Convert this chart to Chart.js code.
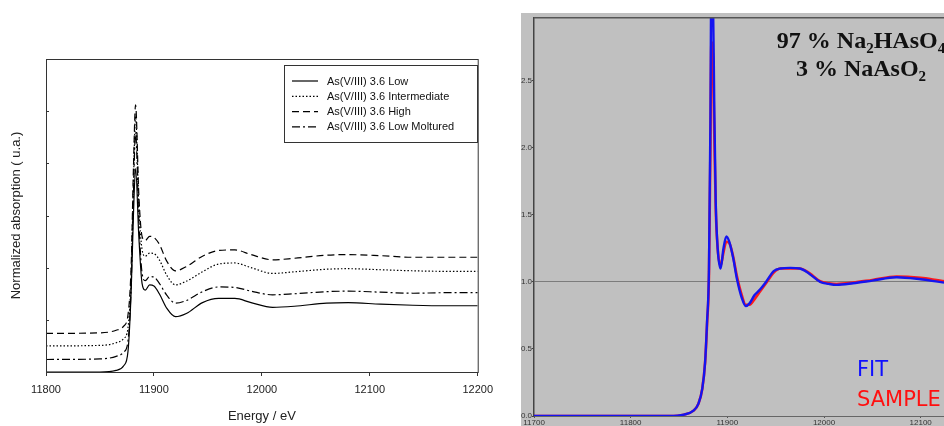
<!DOCTYPE html>
<html>
<head>
<meta charset="utf-8">
<script src="https://cdn.jsdelivr.net/npm/chart.js@4/dist/chart.umd.min.js"></script>
<style>
  html, body { margin: 0; padding: 0; background: #fff; overflow: hidden; width: 944px; height: 426px; }
  #left { position: absolute; left: 0; top: 0; width: 500px; height: 426px; }
  #right { position: absolute; left: 521px; top: 13px; width: 448px; height: 413px; background: #c0c0c0; }
</style>
</head>
<body>
<div id="left"><canvas id="xanes"></canvas></div>
<div id="right"><canvas id="fit"></canvas></div>
<script>
// left panel: stacked normalized spectra
const energy = [11800, 11850, 11865, 11872, 11876, 11879, 11881, 11883, 11886, 11889, 11892, 11896, 11900, 11905, 11912, 11920, 11930, 11945, 11960, 11975, 11990, 12010, 12030, 12060, 12080, 12110, 12140, 12170, 12200];
const lowVals      = [0, 0, 0.03, 0.12, 0.4, 1.6, 3.0, 3.9, 2.6, 1.7, 1.57, 1.67, 1.65, 1.5, 1.22, 1.06, 1.12, 1.33, 1.41, 1.41, 1.33, 1.24, 1.26, 1.32, 1.33, 1.30, 1.28, 1.27, 1.27];
const interVals    = [0.5, 0.51, 0.56, 0.64, 0.85, 1.9, 3.6, 4.9, 3.2, 2.35, 2.22, 2.28, 2.27, 2.15, 1.85, 1.67, 1.74, 1.92, 2.07, 2.09, 2.0, 1.89, 1.92, 1.97, 1.98, 1.96, 1.94, 1.93, 1.93];
const highVals     = [0.74, 0.75, 0.8, 0.88, 1.1, 2.1, 3.9, 5.12, 3.4, 2.6, 2.52, 2.6, 2.58, 2.45, 2.12, 1.94, 2.02, 2.22, 2.33, 2.34, 2.25, 2.15, 2.18, 2.24, 2.25, 2.23, 2.2, 2.2, 2.2];
const moltVals     = [0.24, 0.25, 0.3, 0.38, 0.6, 1.7, 3.4, 4.6, 2.9, 1.9, 1.75, 1.83, 1.82, 1.7, 1.47, 1.32, 1.37, 1.54, 1.63, 1.62, 1.55, 1.48, 1.5, 1.54, 1.55, 1.53, 1.51, 1.52, 1.52];
const seriesLabels = ['As(V/III) 3.6 Low', 'As(V/III) 3.6 Intermediate', 'As(V/III) 3.6 High', 'As(V/III) 3.6 Low Moltured'];
const energyTicks = [11800, 11900, 12000, 12100, 12200];

// right panel: linear combination fit
const fitEnergy = [11700, 11750, 11800, 11840, 11855, 11865, 11870, 11874, 11877, 11879, 11881, 11882.5, 11883.5, 11885, 11886.5, 11888, 11890, 11893, 11896, 11899, 11902, 11906, 11910, 11915, 11919, 11923, 11928, 11934, 11940, 11948, 11955, 11965, 11975, 11985, 11996, 12005, 12013, 12030, 12050, 12075, 12100, 12125, 12150];
const fitVals    = [0, 0, 0, 0, 0.01, 0.04, 0.09, 0.2, 0.4, 0.7, 1.1, 2.2, 3.3, 3.2, 2.3, 1.6, 1.25, 1.1, 1.25, 1.34, 1.3, 1.18, 1.02, 0.88, 0.82, 0.84, 0.9, 0.945, 1.0, 1.08, 1.1, 1.105, 1.1, 1.06, 1.0, 0.985, 0.978, 0.99, 1.01, 1.035, 1.02, 0.995, 0.985];
const sampleVals = [0, 0, 0, 0, 0.01, 0.04, 0.09, 0.2, 0.4, 0.68, 1.05, 2.0, 2.79, 2.7, 2.1, 1.55, 1.25, 1.12, 1.22, 1.3, 1.29, 1.19, 1.04, 0.9, 0.83, 0.83, 0.87, 0.93, 0.99, 1.07, 1.1, 1.1, 1.1, 1.065, 1.005, 0.99, 0.985, 0.995, 1.015, 1.04, 1.03, 1.005, 0.995];
const fitTicksY = [0, 0.5, 1.0, 1.5, 2.0, 2.5];

const toPts = (xs, ys) => xs.map((x, i) => ({x: x, y: ys[i]}));
const sans = '"Liberation Sans", Arial, sans-serif';

const dashes = [[], [1.5, 2], [7, 4], [8, 3, 2, 3]];
const leftSeries = [lowVals, interVals, highVals, moltVals];

const frame = {
    id: 'frame',
    afterDatasetsDraw(chart) {
        const a = chart.chartArea, c = chart.ctx;
        c.save();
        c.strokeStyle = '#333';
        c.lineWidth = 1;
        c.strokeRect(a.left + 0.5, a.top + 0.5, a.right - a.left, a.bottom - a.top);
        // small inward ticks on the left axis
        chart.scales.y.ticks.forEach(t => {
            const py = Math.round(chart.scales.y.getPixelForValue(t.value)) + 0.5;
            c.beginPath();
            c.moveTo(a.left, py);
            c.lineTo(a.left + 3, py);
            c.stroke();
        });
        c.restore();
    }
};

const boxLegend = {
    id: 'boxLegend',
    afterDraw(chart) {
        const c = chart.ctx;
        c.save();
        c.strokeStyle = '#333';
        c.lineWidth = 1;
        c.strokeRect(284.5, 65.5, 193, 77);
        c.font = '11px ' + sans;
        c.textBaseline = 'middle';
        c.fillStyle = '#111';
        chart.data.datasets.forEach((ds, i) => {
            const y = 81 + i * 15.3;
            c.beginPath();
            c.setLineDash(ds.borderDash);
            c.strokeStyle = '#000';
            c.lineWidth = 1.2;
            c.moveTo(292, y);
            c.lineTo(318, y);
            c.stroke();
            c.setLineDash([]);
            c.fillText(ds.label, 327, y + 0.5);
        });
        c.restore();
    }
};

new Chart(document.getElementById('xanes').getContext('2d'), {
    type: 'line',
    data: {
        datasets: leftSeries.map((vals, i) => ({
            label: seriesLabels[i],
            data: toPts(energy, vals),
            borderColor: '#000',
            borderWidth: 1.2,
            borderDash: dashes[i],
            pointRadius: 0,
            fill: false,
            cubicInterpolationMode: 'monotone'
        }))
    },
    options: {
        responsive: true,
        maintainAspectRatio: false,
        animation: false,
        layout: { padding: { left: 0, top: 59, right: 19, bottom: 0 } },
        plugins: { legend: { display: false }, tooltip: { enabled: false } },
        scales: {
            x: {
                type: 'linear',
                min: 11800,
                max: 12200,
                afterBuildTicks: s => { s.ticks = energyTicks.map(v => ({value: v})); },
                afterFit: s => { s.height = 54; },
                ticks: { color: '#222', font: { family: sans, size: 11 }, padding: 7, maxRotation: 0, callback: v => String(v) },
                grid: { drawOnChartArea: false, tickLength: 4, color: '#333' },
                border: { color: '#333' },
                title: { display: true, text: 'Energy / eV', color: '#222', font: { family: sans, size: 13 }, padding: { top: 0, bottom: 2 } }
            },
            y: {
                min: 0,
                max: 6,
                ticks: { display: false, stepSize: 1 },
                afterFit: s => { s.width = 46; },
                grid: { display: false },
                border: { color: '#333' },
                title: { display: true, text: 'Normalized absorption ( u.a.)', color: '#222', font: { family: sans, size: 13 }, padding: { top: 9, bottom: 0 } }
            }
        }
    },
    plugins: [frame, boxLegend]
});

const fitLabels = {
    id: 'fitLabels',
    afterDraw(chart) {
        const c = chart.ctx;
        const cx = 340;
        const serif = 'bold 24px "Liberation Serif", "Times New Roman", serif';
        const sub = 'bold 15px "Liberation Serif", "Times New Roman", serif';
        function chem(parts, y) {
            let w = 0;
            parts.forEach(p => { c.font = p[1] ? sub : serif; w += c.measureText(p[0]).width; });
            let x = cx - w / 2;
            parts.forEach(p => {
                c.font = p[1] ? sub : serif;
                c.fillText(p[0], x, p[1] ? y + 5 : y);
                x += c.measureText(p[0]).width;
            });
        }
        c.save();
        c.fillStyle = '#111';
        c.textBaseline = 'alphabetic';
        chem([['97 % Na', 0], ['2', 1], ['HAsO', 0], ['4', 1]], 35);
        chem([['3 % NaAsO', 0], ['2', 1]], 63);
        c.font = '21px "DejaVu Sans", sans-serif';
        c.fillStyle = '#1010ff';
        c.fillText('FIT', 336, 363);
        c.fillStyle = '#ff1010';
        c.fillText('SAMPLE', 336, 393);
        // top border of plot frame
        const a = chart.chartArea;
        c.strokeStyle = '#555';
        c.lineWidth = 1.5;
        c.beginPath();
        c.moveTo(a.left, a.top);
        c.lineTo(a.right, a.top);
        c.stroke();
        c.restore();
    }
};

new Chart(document.getElementById('fit').getContext('2d'), {
    type: 'line',
    data: {
        datasets: [
            { label: 'FIT', data: toPts(fitEnergy, fitVals), borderColor: '#1414f0', borderWidth: 2.4, pointRadius: 0, fill: false, cubicInterpolationMode: 'monotone' },
            { label: 'SAMPLE', data: toPts(fitEnergy, sampleVals), borderColor: '#ff1a1a', borderWidth: 2.6, pointRadius: 0, fill: false, cubicInterpolationMode: 'monotone' }
        ]
    },
    options: {
        responsive: true,
        maintainAspectRatio: false,
        animation: false,
        layout: { padding: { left: 0, top: 2, right: 0, bottom: 0 } },
        plugins: { legend: { display: false }, tooltip: { enabled: false } },
        scales: {
            x: {
                type: 'linear',
                min: 11700,
                max: 12150,
                ticks: { stepSize: 100, includeBounds: false, color: '#333', font: { family: sans, size: 8 }, padding: 0, maxRotation: 0, callback: v => String(v) },
                afterFit: s => { s.height = 10; },
                grid: { drawOnChartArea: false, tickLength: 2, color: '#555' },
                border: { color: '#666', width: 1 }
            },
            y: {
                min: 0,
                max: 2.97,
                afterBuildTicks: s => { s.ticks = fitTicksY.map(v => ({value: v})); },
                ticks: { color: '#333', font: { family: sans, size: 8 }, padding: 0, callback: v => v.toFixed(1) },
                afterFit: s => { s.width = 13; },
                grid: {
                    color: ctx => (ctx.tick && ctx.tick.value === 1 ? '#7c7c7c' : 'rgba(0,0,0,0)'),
                    tickColor: '#444',
                    tickLength: 2,
                    lineWidth: 1
                },
                border: { color: '#444', width: 1.5 }
            }
        }
    },
    plugins: [fitLabels]
});
</script>
</body>
</html>
